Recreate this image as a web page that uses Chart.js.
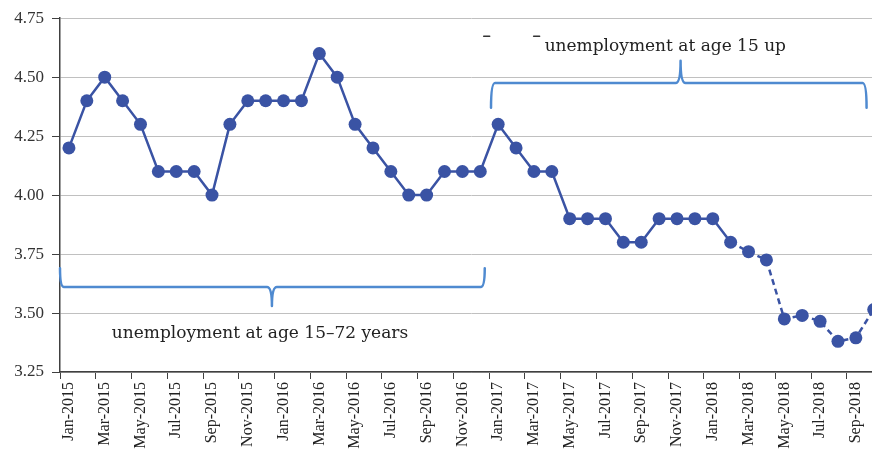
<!DOCTYPE html>
<html>
<head>
<meta charset="utf-8">
<script src="https://cdn.jsdelivr.net/npm/chart.js@4.4.1/dist/chart.umd.min.js"></script>
<style>
  html, body { margin: 0; padding: 0; background: #fff; overflow: hidden; }
  #wrap { width: 896px; height: 457px; }
</style>
</head>
<body>
<div id="wrap"><canvas id="chart"></canvas></div>
<script>
const monthNames = ["Jan", "Feb", "Mar", "Apr", "May", "Jun", "Jul", "Aug", "Sep", "Oct", "Nov", "Dec"];
const years = [2015, 2016, 2017, 2018];
const labels = [];
years.forEach(y => monthNames.forEach(m => labels.push(m + "-" + y)));
labels.length = 46; // Jan-2015 .. Oct-2018

const unemployment = [
  4.2, 4.4, 4.5, 4.4, 4.3, 4.1, 4.1, 4.1, 4.0, 4.3, 4.4, 4.4,
  4.4, 4.4, 4.6, 4.5, 4.3, 4.2, 4.1, 4.0, 4.0, 4.1, 4.1, 4.1,
  4.3, 4.2, 4.1, 4.1, 3.9, 3.9, 3.9, 3.8, 3.8, 3.9, 3.9, 3.9,
  3.9, 3.8, 3.76, 3.725, 3.475, 3.49, 3.465, 3.38, 3.395, 3.515
];
const dashedFrom = 37; // Feb-2018 onward: dashed line

const lineColor = "#3a53a4";
const braceColor = "#4f8ad0";

// brace annotations, in category index / value units
const braces = [
  { x0: -0.5, x1: 23.25, yLine: 3.61, yEnd: 3.69, xTip: 11.35, yTip: 3.53 },
  { x0: 23.6, x1: 44.6, yLine: 4.475, yEnd: 4.37, xTip: 34.2, yTip: 4.57 }
];
const notes = [
  { text: "unemployment at age 15 up", x: 26.6, y: 4.63 },
  { text: "unemployment at age 15\u201372 years", x: 2.4, y: 3.415 }
];

const bracePlugin = {
  id: "braces",
  afterDatasetsDraw(chart) {
    const ctx = chart.ctx;
    const xs = chart.scales.x, ys = chart.scales.y;
    ctx.save();
    ctx.strokeStyle = braceColor;
    ctx.lineWidth = 2.5;
    ctx.lineCap = "round";
    braces.forEach(b => {
      const x0 = xs.getPixelForValue(b.x0), x1 = xs.getPixelForValue(b.x1);
      const xt = xs.getPixelForValue(b.xTip);
      const yl = ys.getPixelForValue(b.yLine), ye = ys.getPixelForValue(b.yEnd);
      const yt = ys.getPixelForValue(b.yTip);
      ctx.beginPath();
      ctx.moveTo(x0, ye);
      ctx.quadraticCurveTo(x0, yl, x0 + 4, yl);
      ctx.lineTo(xt - 5, yl);
      ctx.quadraticCurveTo(xt, yl, xt, yt);
      ctx.moveTo(xt, yt);
      ctx.quadraticCurveTo(xt, yl, xt + 5, yl);
      ctx.lineTo(x1 - 4, yl);
      ctx.quadraticCurveTo(x1, yl, x1, ye);
      ctx.stroke();
    });
    // small stray marks near the upper note
    ctx.strokeStyle = "#333";
    ctx.lineWidth = 1.5;
    [23.36, 26.15].forEach(i => {
      const x = xs.getPixelForValue(i), y = ys.getPixelForValue(4.674);
      ctx.beginPath();
      ctx.moveTo(x - 3, y);
      ctx.lineTo(x + 3, y);
      ctx.stroke();
    });
    ctx.fillStyle = "#222";
    ctx.font = "17px 'DejaVu Serif'";
    ctx.textAlign = "left";
    ctx.textBaseline = "middle";
    notes.forEach(n => {
      ctx.fillText(n.text, xs.getPixelForValue(n.x), ys.getPixelForValue(n.y));
    });
    ctx.restore();
  }
};

new Chart(document.getElementById("chart"), {
  type: "line",
  data: {
    labels: labels,
    datasets: [{
      data: unemployment,
      borderColor: lineColor,
      backgroundColor: lineColor,
      borderWidth: 2.5,
      pointRadius: 6.5,
      pointBorderWidth: 0,
      tension: 0,
      segment: {
        borderDash: c => c.p0DataIndex >= dashedFrom ? [6, 4] : undefined
      }
    }]
  },
  options: {
    responsive: true,
    maintainAspectRatio: false,
    animation: false,
    devicePixelRatio: 1,
    layout: { padding: { top: 17, right: 0 } },
    plugins: { legend: { display: false }, tooltip: { enabled: false } },
    scales: {
      x: {
        type: "category",
        offset: true,
        grid: {
          offset: true,
          drawOnChartArea: false,
          tickLength: 7,
          color: c => c.index % 2 === 0 ? "#404040" : "transparent"
        },
        border: { color: "#404040", width: 1.5 },
        ticks: {
          autoSkip: false,
          maxRotation: 90,
          minRotation: 90,
          padding: 3,
          color: "#222",
          font: { family: "'Liberation Serif'", size: 16 },
          callback: (v, i) => i % 2 === 0 ? labels[i] : ""
        },
        afterFit: s => { s.height = 85; }
      },
      y: {
        min: 3.25,
        max: 4.75,
        ticks: {
          stepSize: 0.25,
          padding: 8,
          color: "#333",
          font: { family: "'Liberation Serif'", size: 17 },
          callback: v => v.toFixed(2)
        },
        grid: { color: "#c0c0c0", lineWidth: 1, tickLength: 8, tickColor: "#404040" },
        border: { color: "#404040", width: 1.5 },
        afterFit: s => { s.width = 60; }
      }
    }
  },
  plugins: [bracePlugin]
});
</script>
</body>
</html>
